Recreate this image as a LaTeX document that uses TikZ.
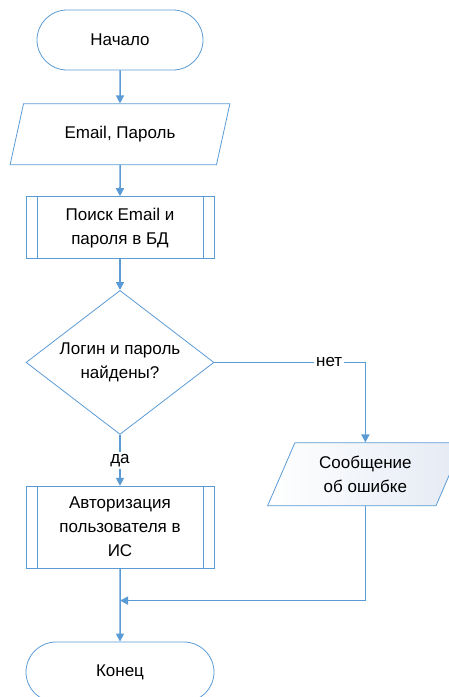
\documentclass[tikz,border=0pt]{standalone}
\usepackage{fontspec}
\setmainfont{Liberation Sans}
\usetikzlibrary{positioning, shapes.geometric, shapes.misc, arrows.meta}
\definecolor{fcLine}{HTML}{5B9BD5}
\definecolor{fcShade}{HTML}{E4EAF4}

\begin{document}
\begin{tikzpicture}[
  base/.style={draw=fcLine, line width=0.8pt, align=center, font=\fontsize{17}{24}\selectfont, inner sep=0pt},
  term/.style={base, rounded rectangle, minimum height=60pt},
  io/.style={base, trapezium, trapezium left angle=64, trapezium right angle=116, trapezium stretches=true},
  sub/.style={base, rectangle, minimum width=188pt,
    path picture={\draw[fcLine, line width=0.8pt]
      ([xshift=11pt]path picture bounding box.north west) -- ([xshift=11pt]path picture bounding box.south west)
      ([xshift=-11pt]path picture bounding box.north east) -- ([xshift=-11pt]path picture bounding box.south east);}},
  cond/.style={base, diamond, aspect=1.3, minimum width=188pt, minimum height=144pt},
  arr/.style={-{Triangle[length=8pt, width=8pt]}, draw=fcLine, line width=1.5pt},
  lbl/.style={fill=white, font=\fontsize{17}{20}\selectfont, inner sep=2pt}
]
\useasboundingbox (0,0) rectangle (449pt,-697pt);

\node[term, minimum width=166pt] (start) at (120pt,-40pt) {Начало};
\node[io, minimum width=220pt, minimum height=61pt, below=33pt of start] (creds) {Email, Пароль};
\node[sub, minimum height=62pt, below=31pt of creds] (search) {Поиск Email и\\пароля в БД};
\node[cond, below=31pt of search] (check) {Логин и пароль\\найдены?};
\node[sub, minimum height=82pt, below=51pt of check] (auth) {Авторизация\\пользователя в\\ИС};
\node[term, minimum width=188pt, below=73pt of auth] (finish) {Конец};

% ветка "нет"
\node[io, minimum width=196pt, minimum height=63pt, left color=white, right color=fcShade,
      below=80pt of check.east, xshift=151pt] (errmsg) {Сообщение\\об ошибке};
\coordinate[below=32pt of auth.south] (merge);

\draw[arr] (start) -- (creds);
\draw[arr] (creds) -- (search);
\draw[arr] (search) -- (check);
\draw[arr] (check) -- (auth) node[lbl, midway] {да};
\draw[arr] (check.east) -| (errmsg.north) node[lbl, pos=0.38] {нет};
\draw[arr] (auth) -- (finish);
\draw[arr] (errmsg.south) |- (merge);
\end{tikzpicture}
\end{document}
